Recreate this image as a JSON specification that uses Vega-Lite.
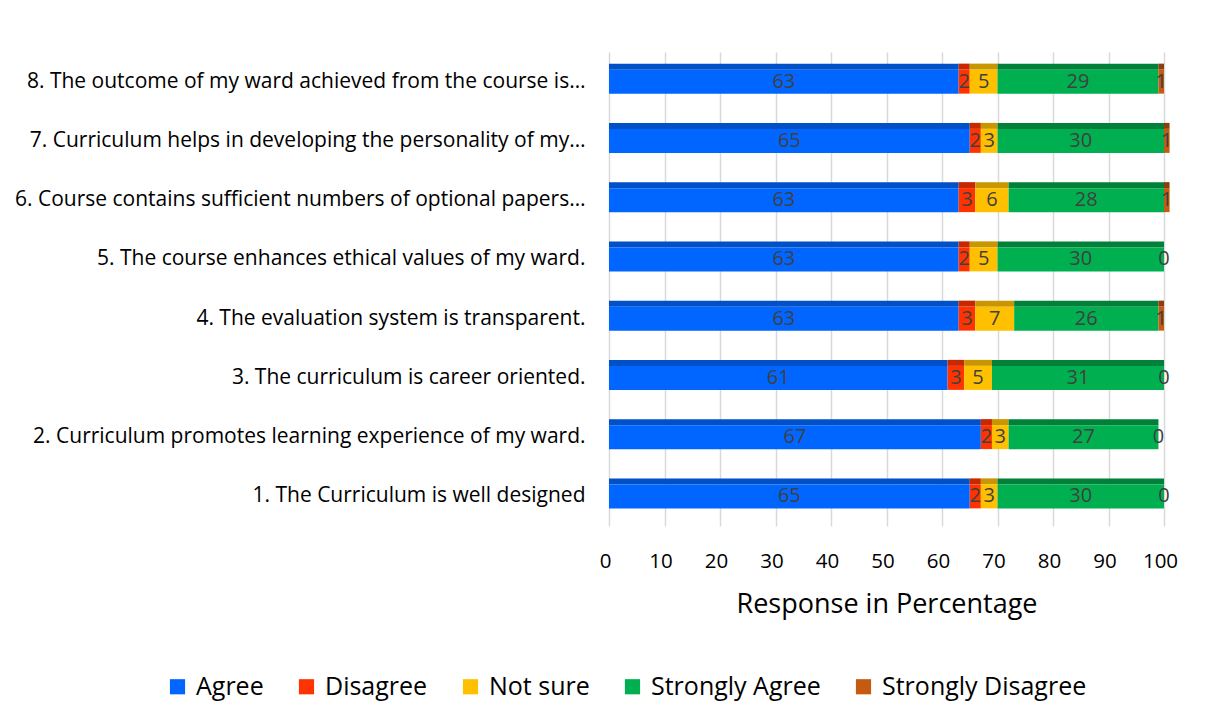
{
  "$schema": "https://vega.github.io/schema/vega-lite/v6.json",
  "width": 555,
  "height": 474,
  "autosize": {"type": "none"},
  "padding": {"left": 609, "top": 52, "right": 67, "bottom": 198},
  "background": "white",
  "config": {
    "view": {"stroke": null},
    "font": "Open Sans",
    "axis": {"labelFont": "Open Sans", "titleFont": "Open Sans", "labelColor": "#000000", "titleColor": "#000000"}
  },
  "data": {
    "values": [
      {"item": "8. The outcome of my ward achieved from the course is…", "response": "Agree", "value": 63},
      {"item": "8. The outcome of my ward achieved from the course is…", "response": "Disagree", "value": 2},
      {"item": "8. The outcome of my ward achieved from the course is…", "response": "Not sure", "value": 5},
      {"item": "8. The outcome of my ward achieved from the course is…", "response": "Strongly Agree", "value": 29},
      {"item": "8. The outcome of my ward achieved from the course is…", "response": "Strongly Disagree", "value": 1},
      {"item": "7. Curriculum helps in developing the personality of my…", "response": "Agree", "value": 65},
      {"item": "7. Curriculum helps in developing the personality of my…", "response": "Disagree", "value": 2},
      {"item": "7. Curriculum helps in developing the personality of my…", "response": "Not sure", "value": 3},
      {"item": "7. Curriculum helps in developing the personality of my…", "response": "Strongly Agree", "value": 30},
      {"item": "7. Curriculum helps in developing the personality of my…", "response": "Strongly Disagree", "value": 1},
      {"item": "6. Course contains sufficient numbers of optional papers…", "response": "Agree", "value": 63},
      {"item": "6. Course contains sufficient numbers of optional papers…", "response": "Disagree", "value": 3},
      {"item": "6. Course contains sufficient numbers of optional papers…", "response": "Not sure", "value": 6},
      {"item": "6. Course contains sufficient numbers of optional papers…", "response": "Strongly Agree", "value": 28},
      {"item": "6. Course contains sufficient numbers of optional papers…", "response": "Strongly Disagree", "value": 1},
      {"item": "5. The course enhances ethical values of my ward.", "response": "Agree", "value": 63},
      {"item": "5. The course enhances ethical values of my ward.", "response": "Disagree", "value": 2},
      {"item": "5. The course enhances ethical values of my ward.", "response": "Not sure", "value": 5},
      {"item": "5. The course enhances ethical values of my ward.", "response": "Strongly Agree", "value": 30},
      {"item": "5. The course enhances ethical values of my ward.", "response": "Strongly Disagree", "value": 0},
      {"item": "4. The evaluation system is transparent.", "response": "Agree", "value": 63},
      {"item": "4. The evaluation system is transparent.", "response": "Disagree", "value": 3},
      {"item": "4. The evaluation system is transparent.", "response": "Not sure", "value": 7},
      {"item": "4. The evaluation system is transparent.", "response": "Strongly Agree", "value": 26},
      {"item": "4. The evaluation system is transparent.", "response": "Strongly Disagree", "value": 1},
      {"item": "3. The curriculum is career oriented.", "response": "Agree", "value": 61},
      {"item": "3. The curriculum is career oriented.", "response": "Disagree", "value": 3},
      {"item": "3. The curriculum is career oriented.", "response": "Not sure", "value": 5},
      {"item": "3. The curriculum is career oriented.", "response": "Strongly Agree", "value": 31},
      {"item": "3. The curriculum is career oriented.", "response": "Strongly Disagree", "value": 0},
      {"item": "2. Curriculum promotes learning experience of my ward.", "response": "Agree", "value": 67},
      {"item": "2. Curriculum promotes learning experience of my ward.", "response": "Disagree", "value": 2},
      {"item": "2. Curriculum promotes learning experience of my ward.", "response": "Not sure", "value": 3},
      {"item": "2. Curriculum promotes learning experience of my ward.", "response": "Strongly Agree", "value": 27},
      {"item": "2. Curriculum promotes learning experience of my ward.", "response": "Strongly Disagree", "value": 0},
      {"item": "1. The Curriculum is well designed", "response": "Agree", "value": 65},
      {"item": "1. The Curriculum is well designed", "response": "Disagree", "value": 2},
      {"item": "1. The Curriculum is well designed", "response": "Not sure", "value": 3},
      {"item": "1. The Curriculum is well designed", "response": "Strongly Agree", "value": 30},
      {"item": "1. The Curriculum is well designed", "response": "Strongly Disagree", "value": 0}
    ]
  },
  "transform": [
    {"stack": "value", "groupby": ["item"], "sort": [{"field": "response", "order": "ascending"}], "as": ["v0", "v1"]},
    {"calculate": "(datum.v0 + datum.v1) / 2", "as": "vmid"}
  ],
  "encoding": {
    "y": {
      "field": "item", "type": "nominal", "sort": "descending",
      "scale": {"paddingInner": 0, "paddingOuter": 0},
      "axis": {"title": null, "ticks": false, "domain": false, "labelFontSize": 21, "labelPadding": 24, "labelLimit": 700, "labelFont": "Open Sans"}
    }
  },
  "layer": [
    {
      "mark": {"type": "bar", "height": 6, "yOffset": -15},
      "encoding": {
        "x": {"field": "v0", "type": "quantitative", "scale": {"domain": [0, 100]},
          "axis": {"title": "Response in Percentage", "titleFontSize": 27, "titleFontWeight": "normal", "titlePadding": 20, "titleFont": "Open Sans",
                   "labelFontSize": 20.5, "labelPadding": 25, "labelFont": "Open Sans", "labelFlush": false, "labelOffset": -4, "ticks": false, "domain": false,
                   "grid": true, "gridColor": "#d9d9d9", "gridWidth": 1.5, "values": [0,10,20,30,40,50,60,70,80,90,100]}},
        "x2": {"field": "v1"},
        "color": {"field": "response", "type": "nominal", "legend": null,
          "scale": {"domain": ["Agree", "Disagree", "Not sure", "Strongly Agree", "Strongly Disagree"],
                    "range": ["#0050C8", "#C82800", "#C89600", "#008038", "#8B3F0C"]}}
      }
    },
    {
      "mark": {"type": "bar", "height": 24},
      "encoding": {
        "x": {"field": "v0", "type": "quantitative"},
        "x2": {"field": "v1"},
        "color": {"field": "response", "type": "nominal",
          "scale": {"domain": ["Agree", "Disagree", "Not sure", "Strongly Agree", "Strongly Disagree"],
                    "range": ["#0066FF", "#FF3300", "#FFC000", "#00B050", "#C55A11"]},
          "legend": {"title": null, "orient": "none", "direction": "horizontal", "legendX": -444, "legendY": 622,
                     "symbolType": "square", "symbolSize": 230, "symbolStrokeWidth": 0, "labelFontSize": 25, "labelFont": "Open Sans", "labelLimit": 500,
                     "labelColor": "#000000", "columnPadding": 30, "labelOffset": 6}}
      }
    },
    {
      "mark": {"type": "text", "fontSize": 20, "color": "#404040", "baseline": "middle", "font": "Open Sans"},
      "encoding": {
        "x": {"field": "vmid", "type": "quantitative"},
        "text": {"field": "value", "type": "quantitative"}
      }
    }
  ],
  "resolve": {"scale": {"color": "independent"}}
}
